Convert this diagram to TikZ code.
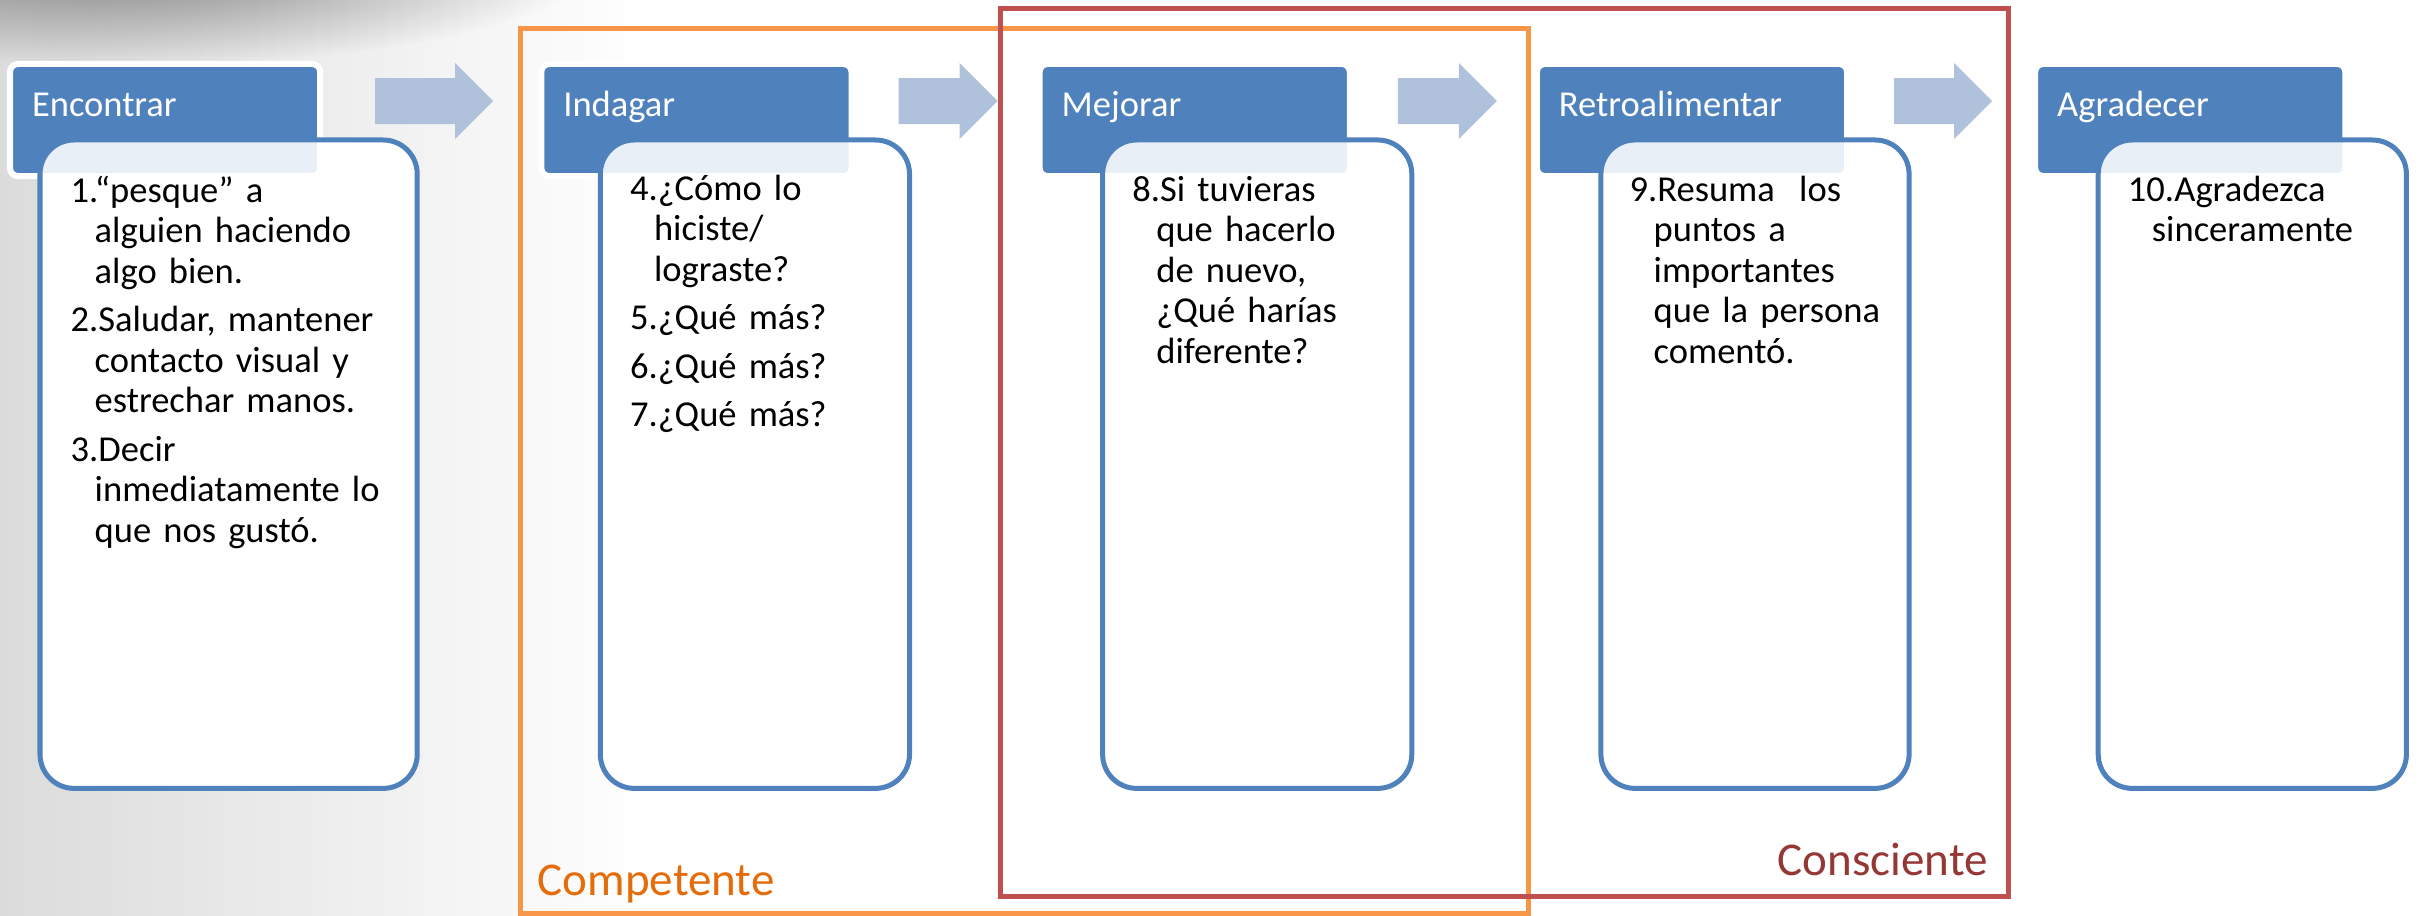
\documentclass[tikz,border=0pt]{standalone}
\usepackage{fontspec}
\setmainfont{Carlito}
\usepackage{xcolor}
\usetikzlibrary{positioning,fadings}

\definecolor{hdrblue}{HTML}{4F81BD}
\definecolor{arrowblue}{HTML}{B0C1DC}
\definecolor{compline}{HTML}{F79646}
\definecolor{comptext}{HTML}{E46C0A}
\definecolor{consline}{HTML}{C0504D}
\definecolor{constext}{HTML}{953735}

\tikzfading[name=softshadow, inner color=transparent!10, outer color=transparent!100]

\newcommand{\stepitem}[2]{\noindent\hangindent=0.24cm\hangafter=1 #1#2\par\vskip0.08cm}
\newcommand{\blockarrow}[2]{\fill[arrowblue] (#1) ++(0,-23) -- ++(#2,0) -- ++(0,-15) -- ++(38,38) -- ++(-38,38) -- ++(0,-15) -- ++(-#2,0) -- cycle;}

\begin{document}
\begin{tikzpicture}[
        x = 0.01cm,
        y = -0.01cm,
        header/.style = {rectangle, rounded corners=0.08cm, fill=hdrblue, draw=white, line width=0.06cm,
            anchor=north west, outer sep=0pt, inner xsep=0.22cm, text width=2.66cm, align=left,
            minimum height=1.12cm, text height=0.26cm, text depth=0.34cm, text=white,
            font=\fontsize{0.365cm}{0.405cm}\selectfont},
        stepbody/.style = {rectangle, rounded corners=0.34cm, fill=white, anchor=north west,
            inner sep=0pt, outer sep=0pt, minimum width=3.09cm, minimum height=6.48cm},
        bodyline/.style = {rounded corners=0.34cm, draw=hdrblue, fill=white, fill opacity=0.875, line width=0.05cm},
        steptext/.style = {anchor=base west, inner sep=0pt, text width=3.4cm, align=left,
            font=\fontsize{0.365cm}{0.405cm}\selectfont},
        groupframe/.style = {rectangle, line width=0.05cm, anchor=north west, inner sep=0pt, outer sep=0pt},
        grouplabel/.style = {inner sep=0pt, font=\fontsize{0.47cm}{0.56cm}\selectfont}
        ]

        \useasboundingbox (0,0) rectangle (2419,916);

        % BACKGROUND
        \fill[white] (0,0) rectangle (2419,916);
        \shade[left color=black!14, right color=white] (0,0) rectangle (650,916);
        \fill[black!70, opacity=0.7, path fading=softshadow] (130,-35) ellipse [x radius=4.6cm, y radius=1.0cm];

        % NODES
        % bodies (white backing)
        \node[stepbody, minimum width=3.77cm] (bodyA) at (40,140) {};
        \node[stepbody, right=1.83cm of bodyA] (bodyB) {};
        \node[stepbody, right=1.93cm of bodyB] (bodyC) {};
        \node[stepbody, right=1.89cm of bodyC, minimum width=3.08cm] (bodyD) {};
        \node[stepbody, right=1.89cm of bodyD, minimum width=3.08cm] (bodyE) {};

        % headers
        \node[header] (hdrA) at (10,64) {Encontrar};
        \node[header, right=2.21cm of hdrA] (hdrB) {Indagar};
        \node[header, right=1.88cm of hdrB] (hdrC) {Mejorar};
        \node[header, right=1.87cm of hdrC] (hdrD) {Retroalimentar};
        \node[header, right=1.88cm of hdrD] (hdrE) {Agradecer};

        % body outlines over the headers
        \draw[bodyline] (bodyA.north west) rectangle (bodyA.south east);
        \draw[bodyline] (bodyB.north west) rectangle (bodyB.south east);
        \draw[bodyline] (bodyC.north west) rectangle (bodyC.south east);
        \draw[bodyline] (bodyD.north west) rectangle (bodyD.south east);
        \draw[bodyline] (bodyE.north west) rectangle (bodyE.south east);

        % texts
        \node[steptext] (txtA) at ([xshift=0.30cm, yshift=-0.62cm]bodyA.north west)
            {\stepitem{1.}{“pesque” a\newline alguien haciendo\newline algo bien.}%
             \stepitem{2.}{Saludar, mantener\newline contacto visual y\newline estrechar manos.}%
             \stepitem{3.}{Decir\newline inmediatamente lo\newline que nos gustó.}};
        \node[steptext] (txtB) at ([xshift=0.29cm, yshift=-0.60cm]bodyB.north west)
            {\stepitem{4.}{¿Cómo lo\newline hiciste/\newline lograste?}%
             \stepitem{5.}{¿Qué más?}%
             \stepitem{6.}{¿Qué más?}%
             \stepitem{7.}{¿Qué más?}};
        \node[steptext] (txtC) at ([xshift=0.29cm, yshift=-0.61cm]bodyC.north west)
            {\stepitem{8.}{Si tuvieras\newline que hacerlo\newline de nuevo,\newline ¿Qué harías\newline diferente?}};
        \node[steptext] (txtD) at ([xshift=0.28cm, yshift=-0.61cm]bodyD.north west)
            {\stepitem{9.}{Resuma\ \ los\newline puntos a\newline importantes\newline que la persona\newline comentó.}};
        \node[steptext] (txtE) at ([xshift=0.29cm, yshift=-0.61cm]bodyE.north west)
            {\stepitem{10.}{Agradezca\newline sinceramente}};

        % groups
        \node[groupframe, draw=compline, minimum width=10.08cm, minimum height=8.84cm] (competente) at (520,29) {};
        \node[groupframe, draw=consline, minimum width=10.08cm, minimum height=8.875cm] (consciente) at (1000,8.5) {};
        \node[grouplabel, anchor=base west, text=comptext] (competenteLbl)
            at ([xshift=0.17cm, yshift=0.18cm]competente.south west) {Competente};
        \node[grouplabel, anchor=base east, text=constext] (conscienteLbl)
            at ([xshift=-0.20cm, yshift=0.21cm]consciente.south east) {Consciente};

        % ARROWS
        \coordinate (arrAB) at ([xshift=0.55cm, yshift=0.19cm]hdrA.east);
        \coordinate (arrBC) at ([xshift=0.47cm, yshift=0.19cm]hdrB.east);
        \coordinate (arrCD) at ([xshift=0.48cm, yshift=0.19cm]hdrC.east);
        \coordinate (arrDE) at ([xshift=0.47cm, yshift=0.19cm]hdrD.east);
        \blockarrow{arrAB}{80}
        \blockarrow{arrBC}{61}
        \blockarrow{arrCD}{61}
        \blockarrow{arrDE}{60}
\end{tikzpicture}
\end{document}
